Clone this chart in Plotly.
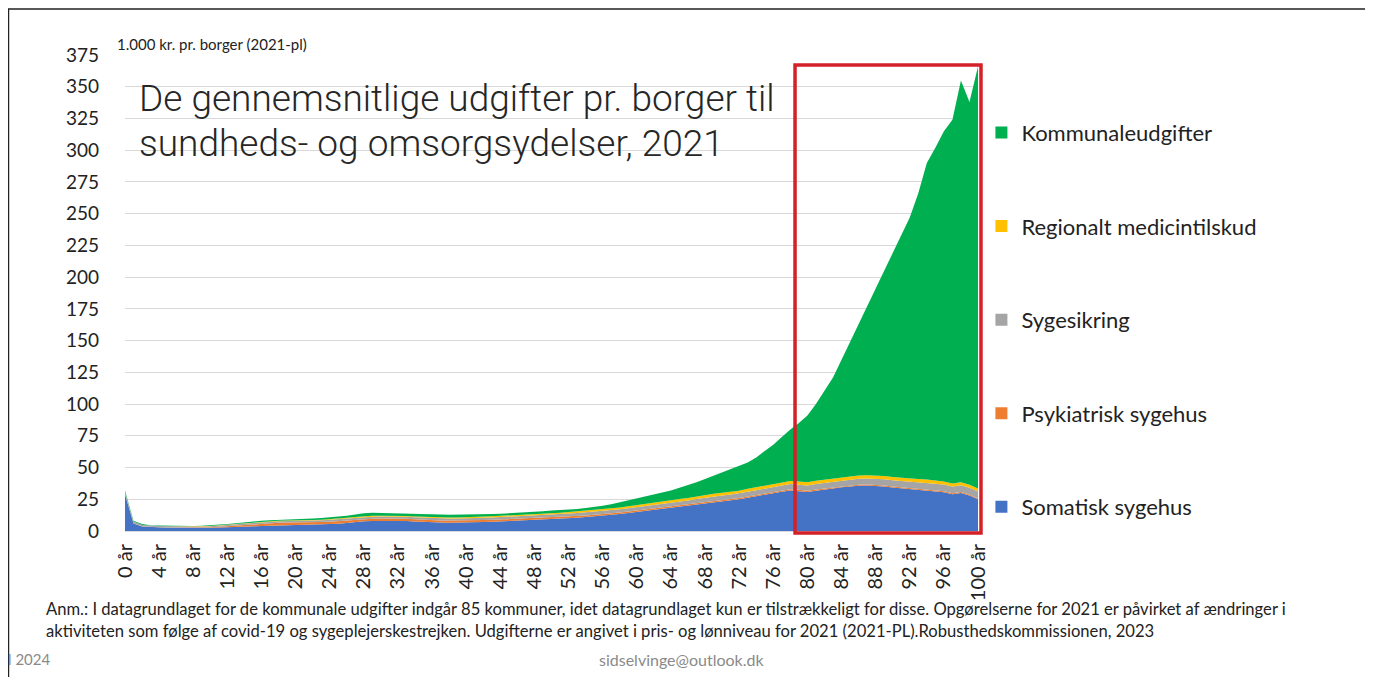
import plotly.graph_objects as go

ages = list(range(0, 101))

somatisk = [29, 6, 3.5, 3.0, 2.8, 2.6, 2.5, 2.4, 2.4, 2.5,
            2.6, 2.8, 3.0, 3.2, 3.5, 3.8, 4.0, 4.2, 4.4, 4.5,
            4.6, 4.7, 4.8, 5.0, 5.3, 5.8, 6.3, 7.0, 7.6, 7.8,
            7.9, 8.0, 8.0, 7.8, 7.4, 7.0, 6.8, 6.6, 6.5, 6.5,
            6.6, 6.8, 7.0, 7.2, 7.5, 7.7, 8.0, 8.2, 8.5, 8.9,
            9.3, 9.6, 10.0, 10.5, 11.0, 11.5, 12.0, 12.7, 13.4, 14.2,
            15.0, 15.8, 16.6, 17.5, 18.4, 19.2, 20.0, 21.0, 22.0, 22.8,
            23.5, 24.2, 25.0, 26.2, 27.5, 28.8, 30.0, 31.0, 32.0, 31.5,
            30.8, 31.8, 32.5, 33.5, 34.5, 35.2, 35.6, 35.8, 35.6, 35.0,
            34.2, 33.6, 33.2, 32.6, 32.0, 31.4, 30.6, 29.0, 30.0, 28.0,
            25.0]

psykiatrisk = [0.2, 0.2, 0.2, 0.2, 0.2, 0.2, 0.2, 0.2, 0.2, 0.2,
               0.3, 0.5, 0.8, 1.1, 1.4, 1.7, 1.9, 2.0, 2.1, 2.1,
               2.0, 2.0, 2.0, 2.0, 2.0, 2.0, 2.0, 2.0, 1.9, 1.9,
               1.9, 1.8, 1.8, 1.8, 1.8, 1.8, 1.7, 1.7, 1.7, 1.7,
               1.7, 1.7, 1.6, 1.6, 1.6, 1.6, 1.5, 1.5, 1.5, 1.5,
               1.4, 1.4, 1.4, 1.4, 1.3, 1.3, 1.3, 1.3, 1.2, 1.2,
               1.2, 1.1, 1.1, 1.1, 1.1, 1.1, 1.0, 1.0, 1.0, 1.0,
               1.0, 1.0, 1.0, 1.0, 0.9, 0.9, 0.9, 0.9, 0.9, 0.9,
               0.9, 0.9, 0.9, 0.8, 0.8, 0.8, 0.8, 0.8, 0.8, 0.8,
               0.8, 0.8, 0.8, 0.8, 0.8, 0.7, 0.7, 0.7, 0.7, 0.7,
               0.7]

sygesikring = [1.5, 1.2, 1.0, 0.9, 0.9, 0.9, 0.9, 0.9, 0.9, 0.9,
               0.9, 1.0, 1.0, 1.0, 1.1, 1.1, 1.1, 1.2, 1.2, 1.3,
               1.3, 1.4, 1.4, 1.4, 1.5, 1.5, 1.5, 1.5, 1.6, 1.6,
               1.6, 1.6, 1.6, 1.6, 1.6, 1.7, 1.7, 1.7, 1.7, 1.7,
               1.7, 1.8, 1.8, 1.9, 1.9, 2.0, 2.0, 2.0, 2.1, 2.1,
               2.2, 2.2, 2.3, 2.3, 2.4, 2.4, 2.5, 2.5, 2.5, 2.6,
               2.6, 2.7, 2.8, 2.9, 3.0, 3.0, 3.1, 3.2, 3.3, 3.4,
               3.5, 3.5, 3.6, 3.7, 3.7, 3.8, 3.9, 4.0, 4.1, 4.2,
               4.2, 4.3, 4.4, 4.4, 4.5, 4.6, 4.7, 4.8, 4.8, 4.9,
               5.0, 5.0, 5.1, 5.1, 5.2, 5.2, 5.3, 5.3, 5.4, 5.4,
               5.5]

medicintilskud = [0.1, 0.1, 0.1, 0.1, 0.1, 0.1, 0.1, 0.1, 0.1, 0.1,
                  0.1, 0.2, 0.2, 0.2, 0.3, 0.3, 0.3, 0.3, 0.4, 0.4,
                  0.4, 0.5, 0.5, 0.5, 0.5, 0.6, 0.6, 0.6, 0.6, 0.7,
                  0.7, 0.7, 0.7, 0.7, 0.7, 0.7, 0.8, 0.8, 0.8, 0.8,
                  0.8, 0.9, 0.9, 0.9, 1.0, 1.0, 1.0, 1.1, 1.1, 1.1,
                  1.2, 1.2, 1.3, 1.3, 1.4, 1.4, 1.5, 1.5, 1.5, 1.6,
                  1.6, 1.7, 1.7, 1.8, 1.8, 1.9, 1.9, 2.0, 2.0, 2.1,
                  2.1, 2.2, 2.2, 2.3, 2.3, 2.3, 2.4, 2.4, 2.4, 2.4,
                  2.5, 2.5, 2.5, 2.5, 2.5, 2.6, 2.6, 2.6, 2.6, 2.6,
                  2.6, 2.5, 2.5, 2.5, 2.5, 2.4, 2.4, 2.4, 2.4, 2.3,
                  2.3]

kommunal = [1.2, 0.5, 0.7, 0.4, 0.4, 0.4, 0.4, 0.4, 0.4, 0.5,
            0.6, 0.6, 0.6, 0.7, 0.6, 0.6, 0.7, 0.7, 0.7, 0.8,
            1.1, 1.1, 1.2, 1.3, 1.4, 1.4, 1.6, 1.9, 2.3, 2.3,
            2.1, 2.0, 2.0, 2.1, 2.2, 2.2, 2.2, 2.2, 2.1, 2.1,
            2.0, 1.7, 1.8, 1.7, 1.6, 1.6, 1.7, 1.7, 1.8, 2.0,
            2.0, 2.0, 1.9, 1.9, 2.0, 2.2, 2.5, 3.0, 3.9, 4.4,
            5.1, 5.7, 6.3, 6.7, 7.7, 8.8, 10.0, 11.3, 12.7, 14.2,
            15.9, 17.6, 19.2, 20.8, 23.6, 27.2, 30.8, 35.7, 40.6, 46.0,
            52.6, 60.5, 69.7, 79.8, 92.7, 105.8, 119.3, 133.0, 146.2, 160.7,
            175.4, 190.1, 205.4, 225.0, 249.5, 262.3, 276.0, 286.6, 316.5, 301.6,
            332.5]

series = [
    ("Somatisk sygehus", somatisk, "#4472C4"),
    ("Psykiatrisk sygehus", psykiatrisk, "#ED7D31"),
    ("Sygesikring", sygesikring, "#A5A5A5"),
    ("Regionalt medicintilskud", medicintilskud, "#FFC000"),
    ("Kommunaleudgifter", kommunal, "#00B050"),
]

tick_ages = list(range(0, 101, 4))
tick_labels = [f"{a} år" for a in tick_ages]
y_ticks = list(range(0, 376, 25))

FONT = "Lato"
TXT = "#222222"

fig = go.Figure()

for i, (name, vals, color) in enumerate(series):
    fig.add_trace(go.Scatter(
        x=ages, y=vals, name=name,
        mode="lines", stackgroup="one",
        line=dict(width=0, color=color),
        fillcolor=color,
        showlegend=False,
    ))
    # legend entry as a small square
    fig.add_trace(go.Scatter(
        x=[None], y=[None], name=name, mode="markers",
        marker=dict(symbol="square", size=12, color=color),
        legendgroup=name, legendrank=5 - i,
    ))

# red highlight box (paper coords so it is not clipped)
fig.add_shape(type="rect", xref="paper", yref="paper",
              x0=0.7855, x1=1.0035, y0=-0.0042, y1=0.979,
              line=dict(color="#D42127", width=3.5))

# frame around the slide
fig.add_shape(type="rect", xref="paper", yref="paper",
              x0=-0.1366, x1=1.4549, y0=-0.32, y1=1.0966,
              line=dict(color="#222222", width=1.5))

title_font = dict(family="Roboto", size=37, color="#262626", weight=300)
fig.add_annotation(
    text="De gennemsnitlige udgifter pr. borger til",
    xref="paper", yref="paper", x=0.014, y=0.9076, xanchor="left", yanchor="middle",
    showarrow=False, font=title_font,
)
fig.add_annotation(
    text="sundheds- og omsorgsydelser, 2021",
    xref="paper", yref="paper", x=0.014, y=0.8151, xanchor="left", yanchor="middle",
    showarrow=False, font=title_font,
)
fig.add_annotation(
    text="1.000 kr. pr. borger (2021-pl)",
    xref="paper", yref="paper", x=-0.0115, y=1.023, xanchor="left", yanchor="middle",
    showarrow=False, font=dict(family=FONT, size=15, color=TXT),
)
fig.add_annotation(
    text=("Anm.: I datagrundlaget for de kommunale udgifter indgår 85 kommuner, idet datagrundlaget kun er "
          "tilstrækkeligt for disse. Opgørelserne for 2021 er påvirket af ændringer i<br>"
          "aktiviteten som følge af covid-19 og sygeplejerskestrejken. Udgifterne er angivet i pris- og "
          "lønniveau for 2021 (2021-PL).Robusthedskommissionen, 2023"),
    xref="paper", yref="paper", x=-0.095, y=-0.138, xanchor="left", yanchor="top",
    align="left", showarrow=False, font=dict(family=FONT, size=16.6, color=TXT),
)
fig.add_annotation(
    text="l 2024", xref="paper", yref="paper", x=-0.139, y=-0.269,
    xanchor="left", yanchor="middle", showarrow=False,
    font=dict(family=FONT, size=15, color="#8a8a8a"),
)
fig.add_annotation(
    text="sidselvinge@outlook.dk", xref="paper", yref="paper", x=0.652, y=-0.269,
    xanchor="center", yanchor="middle", showarrow=False,
    font=dict(family=FONT, size=16, color="#8a8a8a"),
)

fig.update_layout(
    width=1365, height=669,
    margin=dict(l=117, r=395, t=47, b=146),
    paper_bgcolor="white", plot_bgcolor="white",
    font=dict(family=FONT, color=TXT),
    showlegend=True,
    legend=dict(
        x=1.004, y=0.881, xanchor="left", yanchor="top",
        font=dict(family=FONT, size=22, color=TXT),
        tracegroupgap=62, itemwidth=30, bgcolor="rgba(0,0,0,0)",
    ),
    xaxis=dict(
        range=[0, 100], tickmode="array", tickvals=tick_ages, ticktext=tick_labels,
        tickangle=-90, tickfont=dict(family=FONT, size=20, color=TXT),
        showgrid=False, zeroline=False, showline=True, linecolor="#D9D9D9",
        ticks="", ticklabelstandoff=4,
    ),
    yaxis=dict(
        range=[0, 375], tickmode="array", tickvals=y_ticks,
        tickfont=dict(family=FONT, size=19, color=TXT),
        showgrid=True, gridcolor="#D9D9D9", gridwidth=1,
        zeroline=False, showline=False, ticks="", ticklabelstandoff=25,
    ),
)

fig.write_html("out.html")
